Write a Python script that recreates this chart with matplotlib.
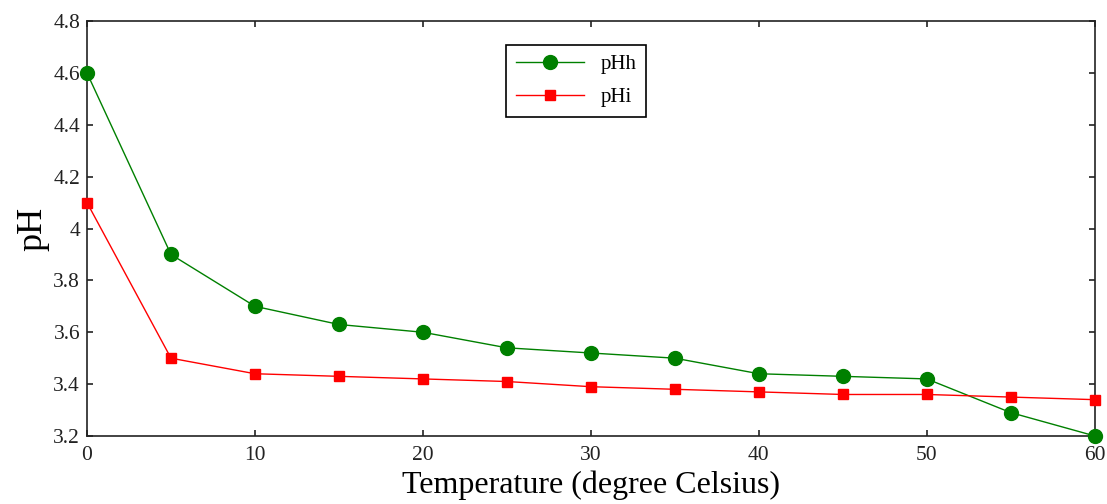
import matplotlib
matplotlib.use("Agg")
import matplotlib.pyplot as plt

# temperature (degree Celsius)
temp = [0, 5, 10, 15, 20, 25, 30, 35, 40, 45, 50, 55, 60]
# pH values
ph_h = [4.60, 3.90, 3.70, 3.63, 3.60, 3.54, 3.52, 3.50, 3.44, 3.43, 3.42, 3.29, 3.20]
ph_i = [4.10, 3.50, 3.44, 3.43, 3.42, 3.41, 3.39, 3.38, 3.37, 3.36, 3.36, 3.35, 3.34]

plt.rcParams["font.family"] = ["Liberation Serif", "DejaVu Serif"]

fig = plt.figure(figsize=(11.07, 5.04), dpi=100)
ax = fig.add_axes([0.0786, 0.135, 0.9104, 0.823])

ax.plot(temp, ph_h, color="green", lw=1, marker="o", ms=10, label="pHh", clip_on=False, zorder=3)
ax.plot(temp, ph_i, color="red", lw=1, marker="s", ms=7, label="pHi", clip_on=False, zorder=3)

ax.set_xlim(0, 60)
ax.set_ylim(3.2, 4.8)
ax.set_xticks([0, 10, 20, 30, 40, 50, 60])
ax.set_yticks([3.2, 3.4, 3.6, 3.8, 4.0, 4.2, 4.4, 4.6, 4.8])
ax.set_yticklabels(["3.2", "3.4", "3.6", "3.8", "4", "4.2", "4.4", "4.6", "4.8"])
ax.tick_params(direction="in", top=True, right=True, length=4, width=1.2, labelsize=15.5, colors="#222222")
ax.tick_params(axis="x", pad=7)
ax.tick_params(axis="y", pad=5)
for s in ax.spines.values():
    s.set_linewidth(1.2)
    s.set_color("#222222")

ax.set_xlabel("Temperature (degree Celsius)", fontsize=23, labelpad=4)
ax.set_ylabel("pH", fontsize=26, labelpad=3)

leg = ax.legend(loc="upper left", bbox_to_anchor=(0.416, 0.942), borderaxespad=0,
                fontsize=15, fancybox=False, edgecolor="black", framealpha=1,
                handlelength=3.3, borderpad=0.45, labelspacing=0.65)
leg.get_frame().set_linewidth(1.2)

fig.savefig("out.png", dpi=100)
